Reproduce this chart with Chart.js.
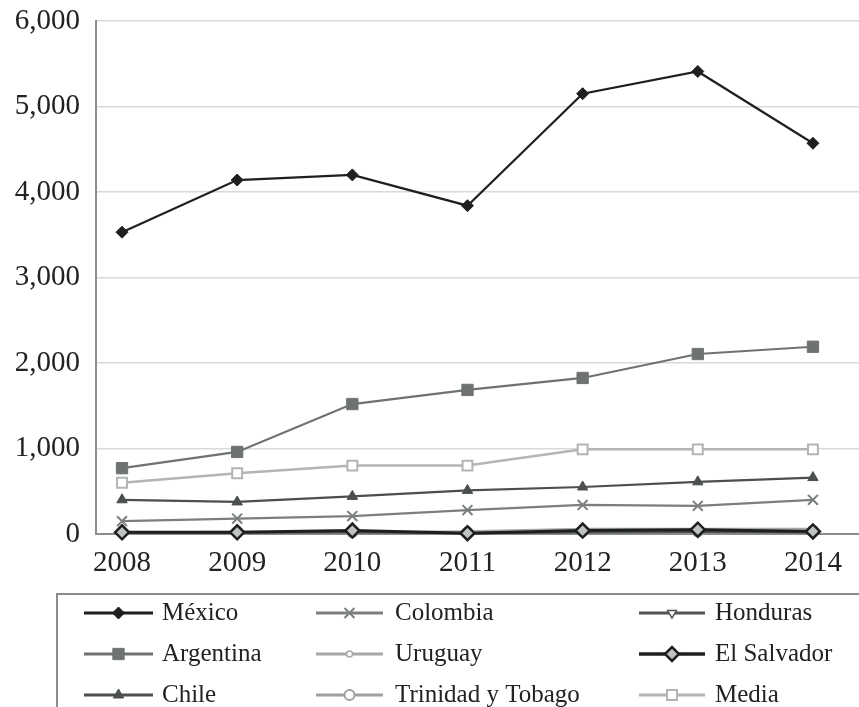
<!DOCTYPE html>
<html>
<head>
<meta charset="utf-8">
<script src="https://cdn.jsdelivr.net/npm/chart.js@4/dist/chart.umd.min.js"></script>
<style>
  html, body { margin:0; padding:0; background:#fff; }
  #wrap { width:859px; height:707px; position:relative; }
</style>
</head>
<body>
<div id="wrap"><canvas id="cv"></canvas></div>
<script>
// ---------- Données ----------
const years      = [2008, 2009, 2010, 2011, 2012, 2013, 2014];
const yTicks     = [0, 1000, 2000, 3000, 4000, 5000, 6000];

const mexico     = [3530, 4140, 4200, 3840, 5150, 5410, 4570];
const colombia   = [150, 180, 210, 280, 340, 330, 400];
const honduras   = [15, 15, 20, 10, 20, 25, 20];
const argentina  = [770, 960, 1520, 1685, 1825, 2105, 2190];
const uruguay    = [10, 15, 20, 30, 60, 60, 60];
const elSalvador = [20, 20, 40, 10, 40, 50, 30];
const chile      = [400, 375, 440, 510, 550, 610, 660];
const trinidad   = [20, 25, 20, 20, 30, 30, 40];
const media      = [600, 710, 800, 800, 990, 990, 990];

const FONT = "'Liberation Serif', 'DejaVu Serif', serif";
const TXT  = '#222';

const pts = arr => arr.map((v, i) => ({ x: years[i], y: v }));

// ---------- Séries (ordre de la légende, ligne par ligne) ----------
const series = [
  { label:'México',            data: mexico,     color:'#1e1f1e', width:2.2, style:'rectRot',  r:6, fill:'#1e1f1e', bw:1 },
  { label:'Colombia',          data: colombia,   color:'#7b7f7e', width:2.2, style:'crossRot', r:7, fill:'#7b7f7e', bw:2 },
  { label:'Honduras',          data: honduras,   color:'#505453', width:2.2, style:'triangle', r:5, fill:'#ffffff', bw:1.5, rot:180 },
  { label:'Argentina',         data: argentina,  color:'#6e7371', width:2.2, style:'rect',     r:8, fill:'#6e7371', bw:1 },
  { label:'Uruguay',           data: uruguay,    color:'#a4a8a7', width:2.2, style:'circle',   r:3, fill:'#ffffff', bw:1.5 },
  { label:'El Salvador',       data: elSalvador, color:'#1e1f1e', width:3,   style:'rectRot',  r:7, fill:'#bfc3c2', bw:2.5, order:-1 },
  { label:'Chile',             data: chile,      color:'#4b4f4e', width:2.2, style:'triangle', r:6, fill:'#4b4f4e', bw:1 },
  { label:'Trinidad y Tobago', data: trinidad,   color:'#9da1a0', width:2.2, style:'circle',   r:5, fill:'#ffffff', bw:2 },
  { label:'Media',             data: media,      color:'#b1b5b4', width:2.5, style:'rect',     r:7, fill:'#ffffff', bw:2 }
];

const datasets = series.map(s => ({
  label: s.label,
  data: pts(s.data),
  borderColor: s.color,
  borderWidth: s.width,
  pointStyle: s.style,
  pointRadius: s.r,
  pointRotation: s.rot || 0,
  pointBackgroundColor: s.fill,
  pointBorderColor: s.color,
  pointBorderWidth: s.bw,
  tension: 0,
  clip: false,
  order: s.order || 0
}));

// ---------- Légende encadrée en 3 colonnes ----------
const boxLegend = {
  id: 'boxLegend',
  afterDraw(chart){
    const ctx = chart.ctx;
    ctx.save();
    ctx.strokeStyle = '#8a8f8d';
    ctx.lineWidth = 2;
    ctx.strokeRect(57, 594, 820, 140);

    const colLine = [84, 316, 639];
    const colText = [162, 395, 715];
    const rowY    = [613, 654, 695];
    const lineLen = [69, 67, 66];

    series.forEach((s, i) => {
      const c = i % 3, r = Math.floor(i / 3);
      const x0 = colLine[c], x1 = x0 + lineLen[c], y = rowY[r];
      ctx.strokeStyle = s.color;
      ctx.lineWidth = s.width + 0.6;
      ctx.beginPath(); ctx.moveTo(x0, y); ctx.lineTo(x1, y); ctx.stroke();

      ctx.fillStyle = s.fill;
      ctx.strokeStyle = s.color;
      ctx.lineWidth = s.bw;
      if (Chart.helpers && Chart.helpers.drawPoint) {
        Chart.helpers.drawPoint(ctx, { pointStyle: s.style, rotation: s.rot || 0, radius: s.r, borderWidth: s.bw }, (x0 + x1) / 2, y);
      }

      ctx.fillStyle = TXT;
      ctx.font = `25px ${FONT}`;
      ctx.textBaseline = 'middle';
      ctx.textAlign = 'left';
      ctx.fillText(s.label, colText[c], y);
    });
    ctx.restore();
  }
};

// ---------- Graphique ----------
new Chart(document.getElementById('cv'), {
  type: 'line',
  data: { datasets },
  options: {
    responsive: true,
    maintainAspectRatio: false,
    animation: false,
    layout: { autoPadding: false, padding: { top: 21, right: 0, bottom: 113, left: 0 } },
    plugins: { legend: { display: false }, tooltip: { enabled: false } },
    scales: {
      x: {
        type: 'linear',
        min: 2007.774,
        max: 2014.4,
        afterFit: sc => { sc.height = 60; sc.paddingLeft = 0; sc.paddingRight = 0; },
        grid: { display: false, drawTicks: false },
        border: { display: true, color: '#8a8f8d', width: 2 },
        ticks: {
          stepSize: 1,
          includeBounds: false,
          padding: 12,
          color: TXT,
          font: { family: FONT, size: 29 },
          callback: v => String(v)
        }
      },
      y: {
        min: yTicks[0],
        max: yTicks[yTicks.length - 1],
        afterFit: sc => { sc.width = 96; sc.paddingTop = 0; sc.paddingBottom = 0; },
        afterBuildTicks: sc => { sc.ticks = yTicks.map(v => ({ value: v })); },
        grid: { color: '#d6dbd9', lineWidth: 1.5, drawTicks: false },
        border: { display: true, color: '#8a8f8d', width: 2 },
        ticks: {
          padding: 16,
          color: TXT,
          font: { family: FONT, size: 29 },
          callback: v => v.toLocaleString('en-US')
        }
      }
    }
  },
  plugins: [boxLegend]
});
</script>
</body>
</html>
